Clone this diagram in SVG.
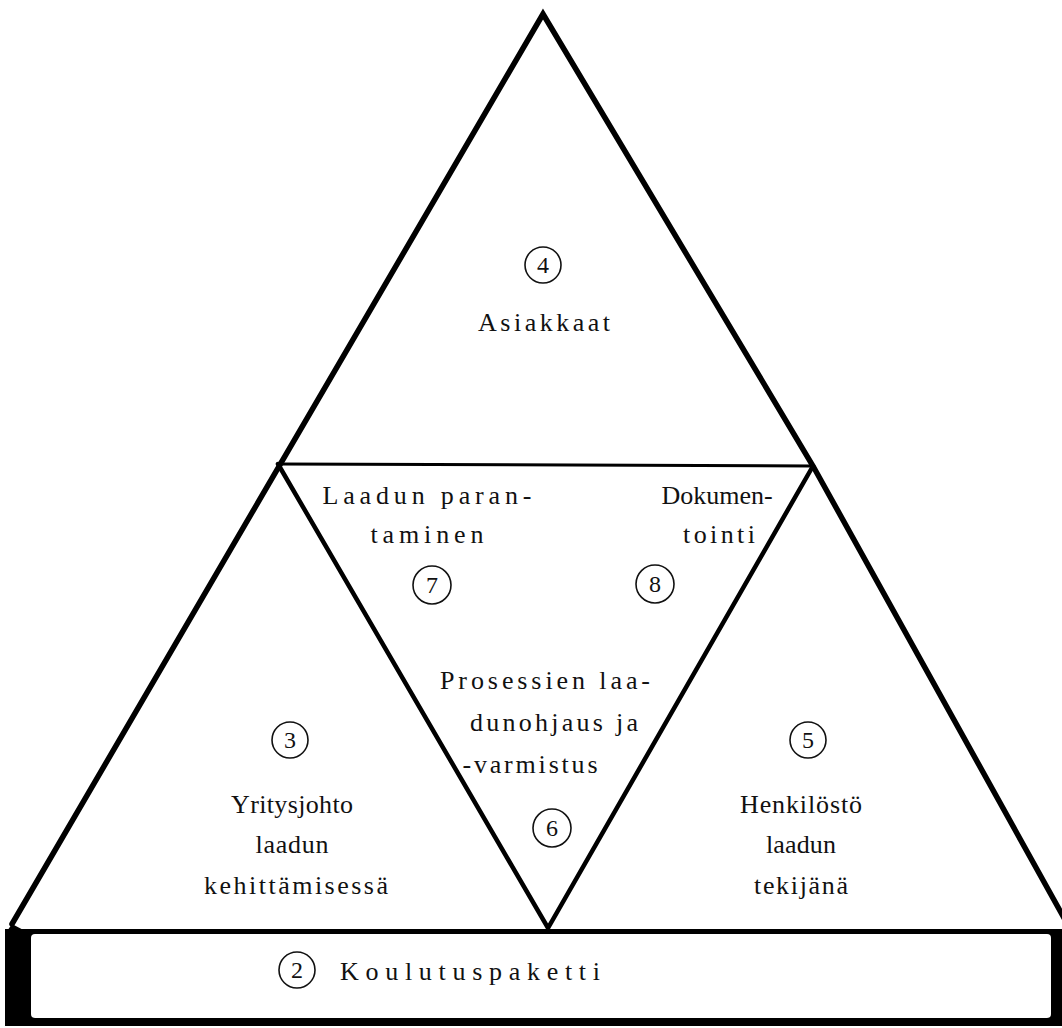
<svg xmlns="http://www.w3.org/2000/svg" width="1062" height="1028" viewBox="0 0 1062 1028">
<style>
.t{font-family:"Liberation Serif","DejaVu Serif",serif;font-size:26px;fill:#111;text-anchor:middle}
.n{font-family:"Liberation Serif","DejaVu Serif",serif;font-size:24px;fill:#111;text-anchor:middle}
.c{fill:none;stroke:#111;stroke-width:1.6}
.edge{fill:none;stroke:#000;stroke-linejoin:miter;stroke-linecap:round}
</style>
<rect width="1062" height="1028" fill="#fff"/>
<g id="frame">
<rect x="5" y="929" width="1057" height="97" fill="#000"/>
<rect x="31" y="934" width="1020" height="84" rx="4" fill="#fff"/>
<path class="edge" stroke-width="5.5" d="M12,924 L543,14 L813,466 L1064,918"/>
<path d="M12,924 L31,934 L5,934 Z" fill="#000"/>
<path class="edge" stroke-width="3" d="M278,464 L813,466"/>
<path class="edge" stroke-width="4.5" d="M278,464 L548,928 L813,466"/>
</g>
<g id="node-4">
<circle class="c" cx="543" cy="265" r="18"/>
<text class="n" x="543" y="273">4</text>
<text class="t" x="544" y="331" textLength="132" lengthAdjust="spacing">Asiakkaat</text>
</g>
<g id="node-7">
<text class="t" x="427" y="504" textLength="209" lengthAdjust="spacing">Laadun paran-</text>
<text class="t" x="427" y="543" textLength="113" lengthAdjust="spacing">taminen</text>
<circle class="c" cx="432" cy="585" r="19"/>
<text class="n" x="432" y="593">7</text>
</g>
<g id="node-8">
<text class="t" x="717" y="504">Dokumen-</text>
<text class="t" x="719" y="543" textLength="72" lengthAdjust="spacing">tointi</text>
<circle class="c" cx="655" cy="584" r="19"/>
<text class="n" x="655" y="592">8</text>
</g>
<g id="node-6">
<text class="t" x="545" y="689" textLength="210" lengthAdjust="spacing">Prosessien laa-</text>
<text class="t" x="554" y="731" textLength="168" lengthAdjust="spacing">dunohjaus ja</text>
<text class="t" x="530" y="773" textLength="135" lengthAdjust="spacing">-varmistus</text>
<circle class="c" cx="552" cy="828" r="19"/>
<text class="n" x="552" y="836">6</text>
</g>
<g id="node-3">
<circle class="c" cx="290" cy="740" r="18"/>
<text class="n" x="290" y="748">3</text>
<text class="t" x="292" y="813" textLength="122" lengthAdjust="spacing">Yritysjohto</text>
<text class="t" x="292" y="853" textLength="73" lengthAdjust="spacing">laadun</text>
<text class="t" x="296" y="894" textLength="184" lengthAdjust="spacing">kehittämisessä</text>
</g>
<g id="node-5">
<circle class="c" cx="808" cy="740" r="18"/>
<text class="n" x="808" y="748">5</text>
<text class="t" x="801" y="813" textLength="122" lengthAdjust="spacing">Henkilöstö</text>
<text class="t" x="801" y="853" textLength="70" lengthAdjust="spacing">laadun</text>
<text class="t" x="801" y="894" textLength="94" lengthAdjust="spacing">tekijänä</text>
</g>
<g id="node-2">
<circle class="c" cx="297" cy="970" r="18"/>
<text class="n" x="297" y="978">2</text>
<text class="t" x="470" y="980" textLength="260" lengthAdjust="spacing">Koulutuspaketti</text>
</g>
</svg>
